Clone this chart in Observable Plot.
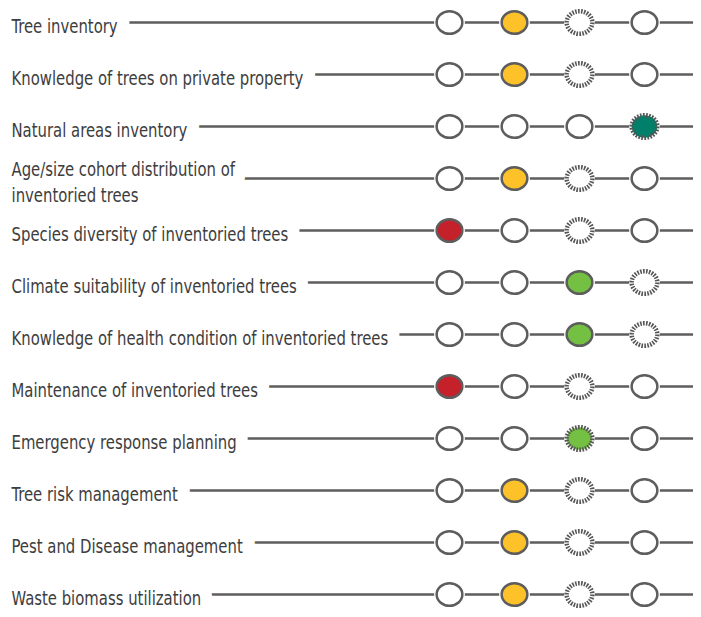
<!DOCTYPE html>
<html>
<head>
<meta charset="utf-8">
<script src="https://cdn.jsdelivr.net/npm/d3@7"></script>
<script src="https://cdn.jsdelivr.net/npm/@observablehq/plot@0.6"></script>
<style>
  html, body { margin: 0; padding: 0; background: #fff; }
  #chart svg { display: block; }
</style>
</head>
<body>
<div id="chart"></div>
<script>
// Indicators (rows)
const labels = [
  "Tree inventory",
  "Knowledge of trees on private property",
  "Natural areas inventory",
  "Age/size cohort distribution of\ninventoried trees",
  "Species diversity of inventoried trees",
  "Climate suitability of inventoried trees",
  "Knowledge of health condition of inventoried trees",
  "Maintenance of inventoried trees",
  "Emergency response planning",
  "Tree risk management",
  "Pest and Disease management",
  "Waste biomass utilization"
];
// Performance levels (1 = low ... 4 = optimal)
const levels = [1, 2, 3, 4];
// Current rating (filled circle) per row
const current = [2, 2, 4, 2, 1, 3, 3, 1, 3, 2, 2, 2];
// Target rating (dashed circle) per row
const target = [3, 3, 4, 3, 3, 4, 4, 3, 3, 3, 3, 3];
// Colour per level
const levelColors = ["#c4212a", "#fdc12a", "#74c043", "#00806a"];

const cells = labels.flatMap((label, i) => levels.map(level => ({
  label,
  level,
  filled: current[i] === level,
  dashed: target[i] === level
})));

const ellipse = {
  draw(ctx, size) {
    const r = Math.sqrt(size / Math.PI);
    const rx = r * 1.07, ry = r * 0.94, k = 0.5523;
    ctx.moveTo(rx, 0);
    ctx.bezierCurveTo(rx, ry * k, rx * k, ry, 0, ry);
    ctx.bezierCurveTo(-rx * k, ry, -rx, ry * k, -rx, 0);
    ctx.bezierCurveTo(-rx, -ry * k, -rx * k, -ry, 0, -ry);
    ctx.bezierCurveTo(rx * k, -ry, rx, -ry * k, rx, 0);
    ctx.closePath();
  }
};

const gray = "#5d5d5d";
const fillOf = d => d.filled ? levelColors[d.level - 1] : "#ffffff";
const font = "'DejaVu Sans Condensed', 'Liberation Sans Narrow', sans-serif";
const textOpts = {
  y: d => d,
  text: d => d,
  frameAnchor: "left",
  textAnchor: "start",
  lineAnchor: "middle",
  lineHeight: 1.4,
  dx: 3,
  dy: 2,
  fontSize: 19,
  fontFamily: font
};

const chart = Plot.plot({
  width: 701,
  height: 617,
  marginLeft: 8,
  marginRight: 8,
  marginTop: 0,
  marginBottom: 0,
  x: { domain: [1, 4], range: [449, 644], axis: null },
  y: { type: "point", domain: labels, range: [21, 595], padding: 0, axis: null },
  style: { background: "#fff" },
  marks: [
    Plot.ruleY(labels, { y: d => d, stroke: gray, strokeWidth: 2.5 }),
    // white halo that clears the rule behind each label
    Plot.text(labels, { ...textOpts, fill: "#fff", stroke: "#fff", strokeWidth: 28, className: "lbl" }),
    Plot.text(labels, { ...textOpts, fill: "#3d3d3d", className: "lbl" }),
    // white backing for every circle
    Plot.dot(cells, { x: "level", y: "label", r: 12.5, symbol: ellipse, fill: "#fff", stroke: "#fff", strokeWidth: 4 }),
    // solid-outline circles
    Plot.dot(cells.filter(d => !d.dashed), {
      x: "level", y: "label", r: 12, symbol: ellipse,
      fill: fillOf, stroke: gray, strokeWidth: 2.5
    }),
    // dashed (target) circles
    Plot.dot(cells.filter(d => d.dashed), {
      x: "level", y: "label", r: 12, symbol: ellipse,
      fill: fillOf, stroke: "#555", strokeWidth: 4.5, strokeDasharray: "1.6,1.3"
    })
  ]
});
// condense label glyphs horizontally to mimic the condensed typeface
chart.querySelectorAll(".lbl text").forEach(t => {
  const tr = t.getAttribute("transform") || "";
  t.setAttribute("transform", tr + " scale(0.87,1)");
});
document.getElementById("chart").append(chart);
</script>
</body>
</html>
